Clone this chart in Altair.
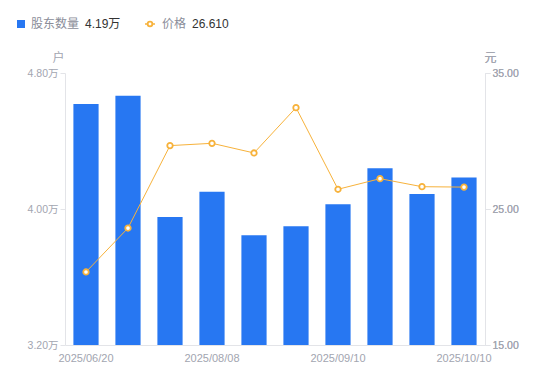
import altair as alt
import pandas as pd

dates = ["2025/06/20", "2025/06/30", "2025/07/18", "2025/08/08", "2025/08/20",
         "2025/08/29", "2025/09/10", "2025/09/19", "2025/09/30", "2025/10/10"]
holders = [46180, 46660, 39530, 41020, 38450, 38980, 40280, 42390, 40880, 41860]
price = [20.37, 23.60, 29.66, 29.83, 29.12, 32.45, 26.45, 27.23, 26.64, 26.61]
shown_dates = ["2025/06/20", "2025/08/08", "2025/09/10", "2025/10/10"]

df = pd.DataFrame({"date": dates, "holders": holders, "price": price})

FONT = "Liberation Sans, Arial, Noto Sans CJK SC, sans-serif"
BLUE = "#2777F2"
ORANGE = "#F7B23B"
AXIS_C = "#E3E4E8"
LABEL_C = "#A2A5B0"

x_enc = alt.X("date:N", sort=None,
              scale=alt.Scale(paddingInner=0.4, paddingOuter=0.2),
              axis=alt.Axis(title=None, values=shown_dates, labelAngle=0, ticks=False,
                            domainColor=AXIS_C, labelColor=LABEL_C, labelFontSize=11,
                            labelPadding=7, labelFont=FONT))

bars = alt.Chart(df).mark_bar(color=BLUE, clip=True).encode(
    x=x_enc,
    y=alt.Y("holders:Q", scale=alt.Scale(domain=[32000, 48000], nice=False, zero=False),
            axis=alt.Axis(title="户", titleAngle=0, titleX=-7, titleY=-9, titleAlign="center",
                          titleBaseline="bottom", titleColor=LABEL_C, titleFontSize=12,
                          titleFontWeight="normal", titleFont=FONT,
                          values=[32000, 40000, 48000], grid=False,
                          labelExpr="format(datum.value/10000, '.2f') + '万'",
                          domainColor=AXIS_C, tickColor=AXIS_C, tickSize=5,
                          labelColor=LABEL_C, labelFontSize=10.5, labelFont=FONT, labelPadding=2))
)

y_price = alt.Y("price:Q", scale=alt.Scale(domain=[15, 35], nice=False, zero=False),
                axis=alt.Axis(title="元", orient="right", offset=0, titleAngle=0, titleX=5,
                              titleY=-9, titleAlign="center", titleBaseline="bottom",
                              titleColor=LABEL_C, titleFontSize=12, titleFontWeight="normal",
                              titleFont=FONT, values=[15, 25, 35], format=".2f", grid=False,
                              domainColor=AXIS_C, tickColor=AXIS_C, tickSize=5,
                              labelColor=LABEL_C, labelFontSize=10.5, labelFont=FONT,
                              labelPadding=2))

line = alt.Chart(df).mark_line(color=ORANGE, strokeWidth=1).encode(
    x=alt.X("date:N", sort=None, bandPosition=0.5), y=y_price)
pts = alt.Chart(df).mark_point(shape="circle", filled=True, fill="white", stroke=ORANGE,
                               strokeWidth=1.8, size=30, opacity=1).encode(
    x=alt.X("date:N", sort=None, bandPosition=0.5), y=y_price)

leg_df = pd.DataFrame({
    "name1": ["股东数量"], "val1": [f"{holders[-1]/10000:.2f}万"],
    "name2": ["价格"], "val2": [f"{price[-1]:.3f}"],
})
legend_base = alt.Chart(leg_df)
sq = legend_base.mark_square(color=BLUE, size=64, opacity=1).encode(
    x=alt.value(-44), y=alt.value(-49))
t1 = legend_base.mark_text(align="left", baseline="middle", fontSize=12, color="#8A8D99",
                           font=FONT).encode(x=alt.value(-34), y=alt.value(-49), text="name1:N")
v1 = legend_base.mark_text(align="left", baseline="middle", fontSize=12, color="#333333",
                           font=FONT).encode(x=alt.value(20), y=alt.value(-49), text="val1:N")
lr = legend_base.mark_rule(color=ORANGE, strokeWidth=1.5).encode(
    x=alt.value(80), x2=alt.value(90), y=alt.value(-49))
lp = legend_base.mark_point(shape="circle", filled=True, fill="white", stroke=ORANGE,
                            strokeWidth=1.8, size=22, opacity=1).encode(
    x=alt.value(85), y=alt.value(-49))
t2 = legend_base.mark_text(align="left", baseline="middle", fontSize=12, color="#8A8D99",
                           font=FONT).encode(x=alt.value(97), y=alt.value(-49), text="name2:N")
v2 = legend_base.mark_text(align="left", baseline="middle", fontSize=12, color="#333333",
                           font=FONT).encode(x=alt.value(127), y=alt.value(-49), text="val2:N")

chart = alt.layer(bars, line, pts, sq, t1, v1, lr, lp, t2, v2).resolve_scale(
    y="independent"
).properties(
    width=420, height=272,
    background="white",
    autosize=alt.AutoSizeParams(type="none"),
    padding={"left": 57, "top": 65, "right": 57, "bottom": 28},
).configure_view(stroke="transparent", strokeWidth=0)

chart.save("out.html", embed_options={"renderer": "svg", "actions": False})
